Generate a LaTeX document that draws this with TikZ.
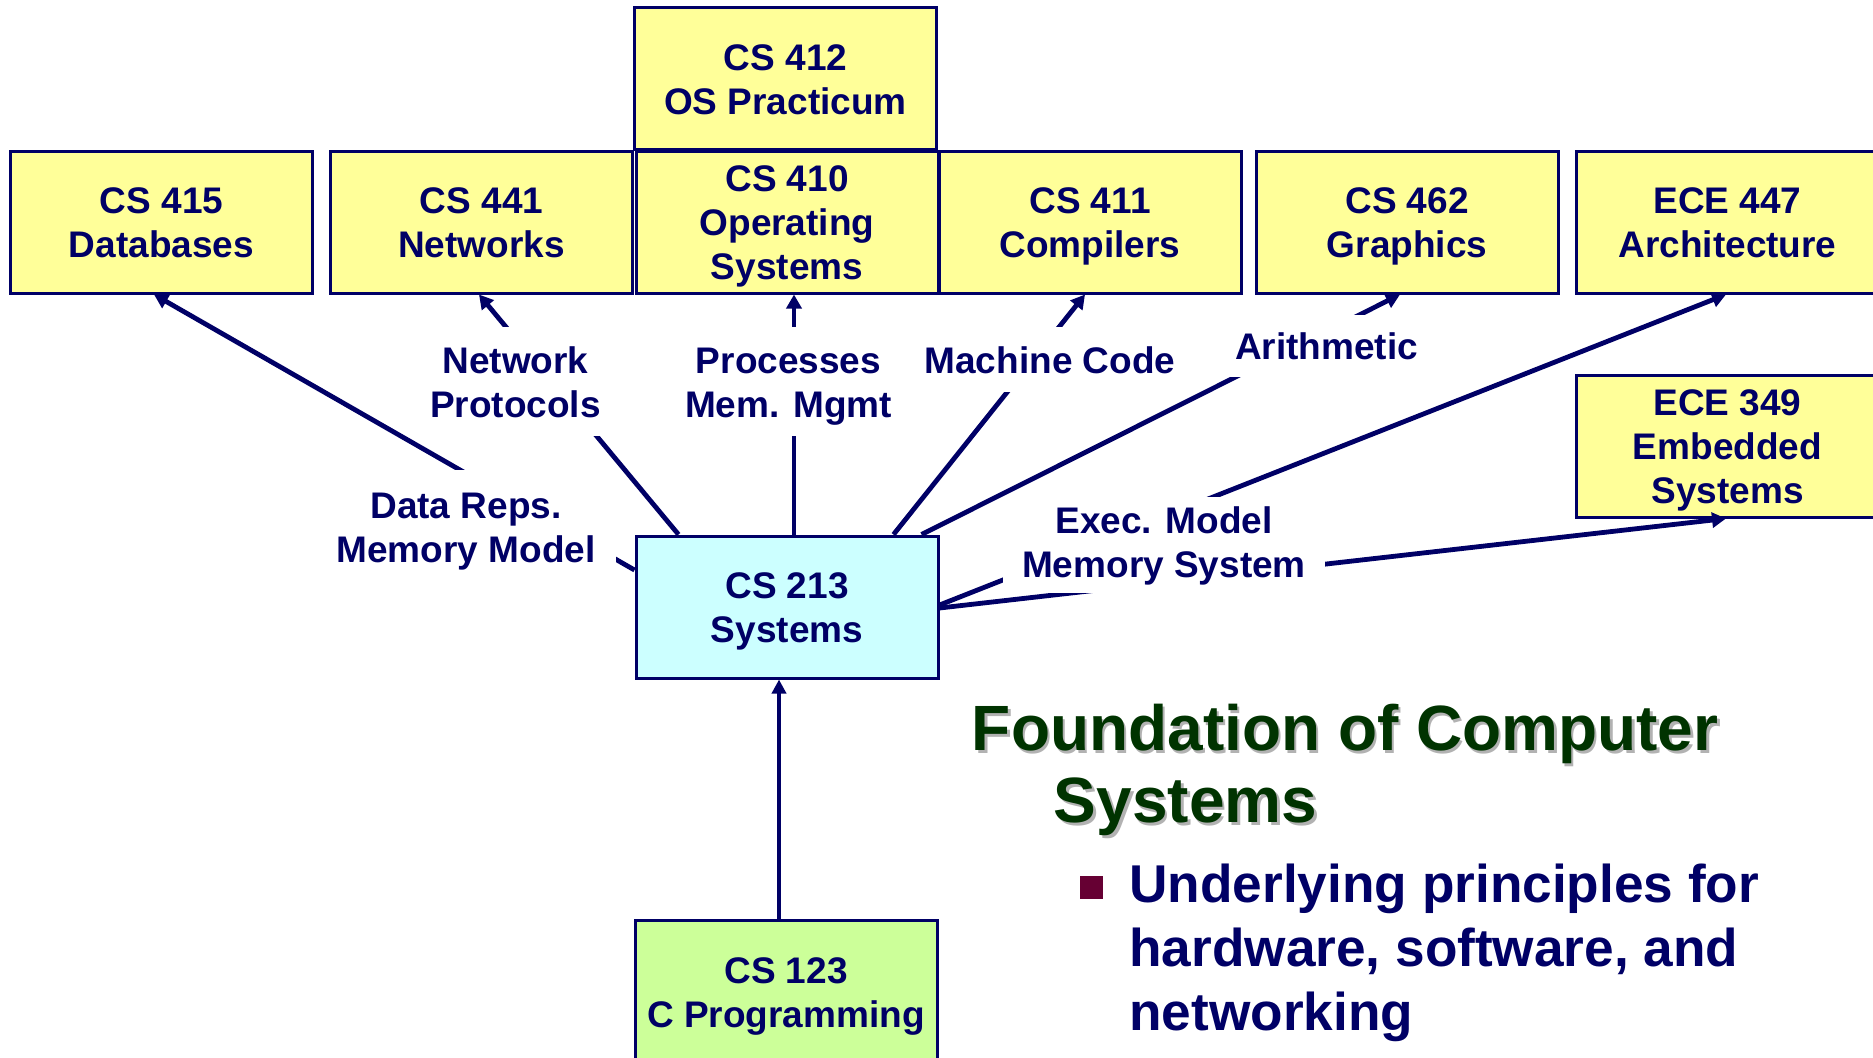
\documentclass[tikz,border=0pt]{standalone}
\usepackage{fontspec}
\setmainfont{Liberation Sans}
\usetikzlibrary{arrows.meta}

\definecolor{navy}{HTML}{000066}
\definecolor{paleyellow}{HTML}{FFFF99}
\definecolor{palecyan}{HTML}{CCFFFF}
\definecolor{palegreen}{HTML}{CCFF99}
\definecolor{darkgreen}{HTML}{003300}
\definecolor{shadowgray}{HTML}{B2B2B2}
\definecolor{bulletred}{HTML}{660033}

% uniform line box so every text line sits at the same place
\newcommand\lb{\vrule width 0pt height 17.5pt depth 4pt\relax}
% same, with extra room below the last line
\newcommand\lbdeep{\vrule width 0pt height 17.5pt depth 7pt\relax}

\begin{document}
\begin{tikzpicture}[x=0.5pt, y=-0.5pt,
  course/.style={draw=navy, line width=1.5pt, fill=paleyellow,
    minimum width=151pt, minimum height=71pt, inner sep=0pt,
    align=center, text=navy, font=\fontsize{18.5}{22}\selectfont\bfseries},
  topic/.style={fill=white, inner sep=0pt, align=center, text=navy,
    font=\fontsize{18.5}{22}\selectfont\bfseries},
  link/.style={draw=navy, line width=2.4pt, -{Triangle[length=7pt,width=7.5pt]}},
  feed/.style={draw=navy, line width=2pt, -{Triangle[length=7pt,width=7pt]}},
  headline/.style={anchor=base west, inner sep=0pt,
    font=\fontsize{32}{36}\selectfont\bfseries},
  bodyline/.style={anchor=base west, inner sep=0pt, text=navy,
    font=\fontsize{26.6}{32}\selectfont\bfseries},
]
\useasboundingbox (0,0) rectangle (1873,1057);
\clip (0,0) rectangle (1873,1057);

% course boxes
\node[course] (cs412) at (785.5,78.5) {\lb CS 412\\\lb OS Practicum};
\node[course] (cs415) at (161.5,222) {\lb CS 415\\\lb Databases};
\node[course] (cs441) at (481.5,222) {\lb CS 441\\\lb Networks};
\node[course] (cs410) at (787,222) {\lb CS 410\\\lb Operating\\\lb Systems};
\node[course] (cs411) at (1090,222) {\lb CS 411\\\lb Compilers};
\node[course] (cs462) at (1407,222) {\lb CS 462\\\lb Graphics};
\node[course] (ece447) at (1727.5,222) {\lb ECE 447\\\lb Architecture};
\node[course] (ece349) at (1727.5,446) {\lb ECE 349\\\lb Embedded\\\lb Systems};
\node[course, fill=palecyan] (cs213) at (787,607) {\lb CS 213\\\lb Systems};
\node[course, fill=palegreen, anchor=north] (cs123) at (786,919) {\lb CS 123\\\lb C Programming};

% what CS 213 feeds into
\draw[link] ([yshift=18.5pt]cs213.west) -- ([xshift=-3.75pt]cs415.south);
\draw[link] ([xshift=22pt]cs213.north west) -- ([xshift=-1.25pt]cs441.south);
\draw[link] ([xshift=3.5pt]cs213.north) -- ([xshift=3.5pt]cs410.south);
\draw[link] ([xshift=-23pt]cs213.north east) -- ([xshift=-2.5pt]cs411.south);
\draw[link] ([xshift=-9pt]cs213.north east) -- ([xshift=-3.5pt]cs462.south);
\draw[link] ([yshift=1pt]cs213.east) -- ([xshift=-0.75pt]ece447.south);
\draw[link] ([yshift=-0.5pt]cs213.east) -- ([xshift=-0.75pt]ece349.south);

% prerequisite
\draw[feed] ([xshift=-3.5pt]cs123.north) -- ([xshift=-3.5pt]cs123.north |- cs213.south);

% topic labels laid over the connectors
\node[topic, minimum width=150pt, minimum height=57pt] (datareps) at (466,527) {\lb Data Reps.\\\lb Memory Model};
\node[topic, minimum width=105.5pt, minimum height=54.5pt] (netproto) at (515.5,381.5) {\lb Network\\\lb Protocols};
\node[topic, minimum width=121.5pt, minimum height=54.5pt] (procmem) at (788.5,381.5) {\lb Processes\\\lb Mem. Mgmt};
\node[topic, minimum width=145.5pt, minimum height=32.5pt] (machcode) at (1050,359.5) {\lb Machine Code};
\node[topic, minimum width=111.5pt, minimum height=31pt] (arith) at (1326.5,346) {\lb Arithmetic};
\node[topic, minimum width=161pt, minimum height=48pt] (execmodel) at (1164,545) {\lb Exec. Model\\\lbdeep Memory System};

% heading with drop shadow
\node[headline, text=shadowgray] (headshadowa) at (974,753) {Foundation of Computer};
\node[headline, text=shadowgray] (headshadowb) at (1056,825) {Systems};
\node[headline, text=darkgreen] (heada) at (971.5,750) {Foundation of Computer};
\node[headline, text=darkgreen] (headb) at (1053.5,822) {Systems};

% bullet point
\node[fill=bulletred, minimum size=11.5pt, inner sep=0pt] (bullet) at (1091,887.5) {};
\node[bodyline] (linea) at (1129,902) {Underlying principles for};
\node[bodyline] (lineb) at (1129,966) {hardware, software, and};
\node[bodyline] (linec) at (1129,1030) {networking};
\end{tikzpicture}
\end{document}
